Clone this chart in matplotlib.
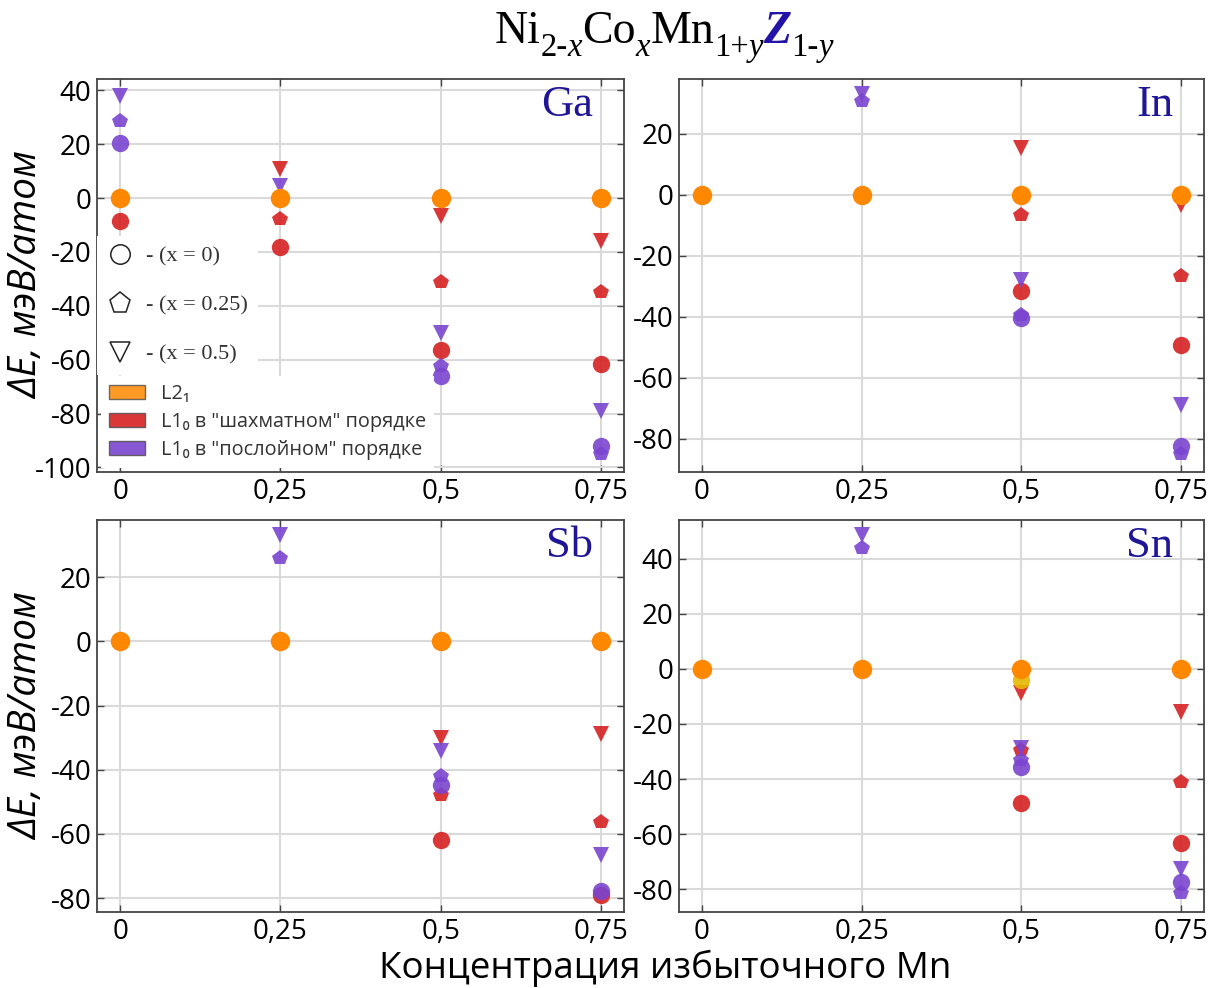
import numpy as np
import matplotlib.pyplot as plt
from matplotlib.lines import Line2D
from matplotlib.patches import Patch

plt.rcParams['font.family'] = ['Open Sans', 'DejaVu Sans']

nan = np.nan
mn_excess = [0, 0.25, 0.5, 0.75]
tick_labels = ['0', '0,25', '0,5', '0,75']

# L2_1 reference (zero level), same for all elements
l21 = [0, 0, 0, 0]

# Ga
ga_chess_x0 = [-8.4, -18.3, -56.3, -61.6]
ga_chess_x25 = [nan, -7.7, -31.2, -35.0]
ga_chess_x5 = [nan, 10.9, -6.8, -16.1]
ga_layer_x0 = [20.6, nan, -66.2, -92.2]
ga_layer_x25 = [28.5, nan, -62.5, -94.9]
ga_layer_x5 = [38.0, 4.3, -50.1, -79.2]

# In
in_chess_x0 = [nan, nan, -31.6, -49.2]
in_chess_x25 = [nan, nan, -6.8, -26.8]
in_chess_x5 = [nan, nan, 15.3, -3.3]
in_layer_x0 = [nan, nan, -40.4, -82.5]
in_layer_x25 = [nan, 30.8, -39.3, -84.9]
in_layer_x5 = [nan, 33.1, -27.9, -68.9]

# Sb
sb_chess_x0 = [nan, nan, -62.0, -79.0]
sb_chess_x25 = [nan, nan, -47.9, -56.2]
sb_chess_x5 = [nan, nan, -30.1, -28.9]
sb_layer_x0 = [nan, nan, -44.8, -77.7]
sb_layer_x25 = [nan, 25.9, -42.0, nan]
sb_layer_x5 = [nan, 33.0, -34.2, -66.5]

# Sn
sn_extra = [nan, nan, -4.1, nan]
sn_chess_x0 = [nan, nan, -48.8, -63.4]
sn_chess_x25 = [nan, nan, -29.5, -41.0]
sn_chess_x5 = [nan, nan, -8.7, -15.6]
sn_layer_x0 = [nan, nan, -35.5, -77.3]
sn_layer_x25 = [nan, 43.9, -33.1, -81.5]
sn_layer_x5 = [nan, 48.5, -28.9, -72.5]

ORANGE = '#ff8800'
RED = '#d62222'
PURPLE = '#7a45d0'
NAVY = '#1e1696'

W, H = 1216, 988
fig = plt.figure(figsize=(W / 100, H / 100), dpi=100)


def rect(l, t, r, b):
    return [l / W, 1 - b / H, (r - l) / W, (b - t) / H]


panels = [
    ('Ga', rect(97, 79, 624, 472), (-101.7, 44.2), np.arange(-100, 41, 20),
     [ga_chess_x0, ga_chess_x25, ga_chess_x5], [ga_layer_x0, ga_layer_x25, ga_layer_x5]),
    ('In', rect(679, 79, 1204, 472), (-90.9, 37.9), np.arange(-80, 21, 20),
     [in_chess_x0, in_chess_x25, in_chess_x5], [in_layer_x0, in_layer_x25, in_layer_x5]),
    ('Sb', rect(97, 520, 624, 912), (-84.3, 37.8), np.arange(-80, 21, 20),
     [sb_chess_x0, sb_chess_x25, sb_chess_x5], [sb_layer_x0, sb_layer_x25, sb_layer_x5]),
    ('Sn', rect(679, 520, 1204, 912), (-88.3, 54.1), np.arange(-80, 41, 20),
     [sn_chess_x0, sn_chess_x25, sn_chess_x5], [sn_layer_x0, sn_layer_x25, sn_layer_x5]),
]

shapes = [('o', 12.5), ('p', 11.5), ('v', 11)]

axes = {}
for name, pos, ylim, yticks, chess, layer in panels:
    ax = fig.add_axes(pos)
    axes[name] = ax
    ax.set_axisbelow(True)
    ax.grid(True, color='#dadada', lw=1.5)
    for vals, color in [(chess, RED), (layer, PURPLE)]:
        for ys, (mk, ms) in zip(vals, shapes):
            ax.plot(mn_excess, ys, ls='none', marker=mk, ms=ms, color=color,
                    alpha=0.9, mew=0)
    if name == 'Sn':
        ax.plot(mn_excess, sn_extra, ls='none', marker='o', ms=12.5,
                color='#e6b800', alpha=0.9, mew=0)
    ax.plot(mn_excess, l21, ls='none', marker='o', ms=14, color=ORANGE, mew=0)
    ax.set_xlim(-0.036, 0.786)
    ax.set_ylim(*ylim)
    ax.set_xticks(mn_excess)
    ax.set_xticklabels(tick_labels)
    ax.set_yticks(yticks)
    ax.set_yticklabels([str(v) for v in yticks])
    ax.tick_params(direction='in', length=5, width=1, top=True, right=True,
                   labelsize=20, pad=4, colors='#444', labelcolor='black')
    for s in ax.spines.values():
        s.set_color('#444')
        s.set_linewidth(1.3)
    ax.text(0.941, 0.906, name, transform=ax.transAxes, ha='right', va='baseline',
            fontsize=32, family='Liberation Serif', color=NAVY)

# legends on the Ga panel
ax = axes['Ga']
shape_handles = [Line2D([], [], ls='none', marker='o', ms=14, mfc='white', mec='#222', mew=1.1),
                 Line2D([], [], ls='none', marker='p', ms=15.5, mfc='white', mec='#222', mew=1.1),
                 Line2D([], [], ls='none', marker='v', ms=14, mfc='white', mec='#222', mew=1.1)]
shape_leg = ax.legend(shape_handles, ['- (x = 0)', '- (x = 0.25)', '- (x = 0.5)'],
                      loc='upper left', bbox_to_anchor=(0.0, 0.6), borderaxespad=0,
                      prop={'family': 'Liberation Serif', 'size': 16}, labelcolor='#333',
                      frameon=True, facecolor='white', edgecolor='none', framealpha=1,
                      fancybox=False, handlelength=1.2, handletextpad=0.55,
                      labelspacing=1.28, borderpad=0.45)
ax.add_artist(shape_leg)

color_handles = [Patch(facecolor=ORANGE, edgecolor='#555', alpha=0.85),
                 Patch(facecolor=RED, edgecolor='#555', alpha=0.9),
                 Patch(facecolor=PURPLE, edgecolor='#555', alpha=0.9)]
ax.legend(color_handles, ['L2₁', 'L1₀ в "шахматном" порядке', 'L1₀ в "послойном" порядке'],
          loc='lower left', bbox_to_anchor=(0.0, 0.0), borderaxespad=0.2,
          prop={'family': ['Open Sans', 'DejaVu Sans'], 'size': 14.3}, labelcolor='#333',
          frameon=True, facecolor='white', edgecolor='none', framealpha=1,
          fancybox=False, handlelength=1.8, handleheight=0.7, handletextpad=0.8,
          labelspacing=0.4, borderpad=0.4)

# axis labels
for ax_name in ['Ga', 'Sb']:
    p = axes[ax_name].get_position()
    fig.text(27 / W, (p.y0 + p.y1) / 2, 'ΔE, мэВ/атом', rotation=90, ha='center',
             va='center', fontsize=28, style='italic')
fig.text(665 / W, 1 - 968 / H, 'Концентрация избыточного Mn', ha='center',
         va='center', fontsize=26.5)

# title, assembled from pieces so that Z can be coloured and subscripts placed
title_parts = [('Ni', 'main', 'normal'), ('2-', 'sub', 'normal'), ('x', 'sub', 'italic'),
               ('Co', 'main', 'normal'), ('x', 'sub', 'italic'),
               ('Mn', 'main', 'normal'), ('1+', 'sub', 'normal'), ('y', 'sub', 'italic'),
               ('Z', 'Z', 'italic'), ('1-', 'sub', 'normal'), ('y', 'sub', 'italic')]
renderer = fig.canvas.get_renderer()
yb = 1 - 43 / H
texts, widths = [], []
for s, kind, st in title_parts:
    kw = dict(family='Liberation Serif', style=st, ha='left', va='baseline')
    if kind == 'main':
        t = fig.text(0, yb, s, fontsize=33, **kw)
    elif kind == 'Z':
        t = fig.text(0, yb, s, fontsize=33, weight='bold', color='#2313a6', **kw)
    else:
        t = fig.text(0, yb - 13 / H, s, fontsize=23.5, **kw)
    texts.append(t)
    widths.append(t.get_window_extent(renderer).width)
x = 664 - sum(widths) / 2
for t, w in zip(texts, widths):
    t.set_x(x / W)
    x += w

fig.savefig('out.png', dpi=100)
